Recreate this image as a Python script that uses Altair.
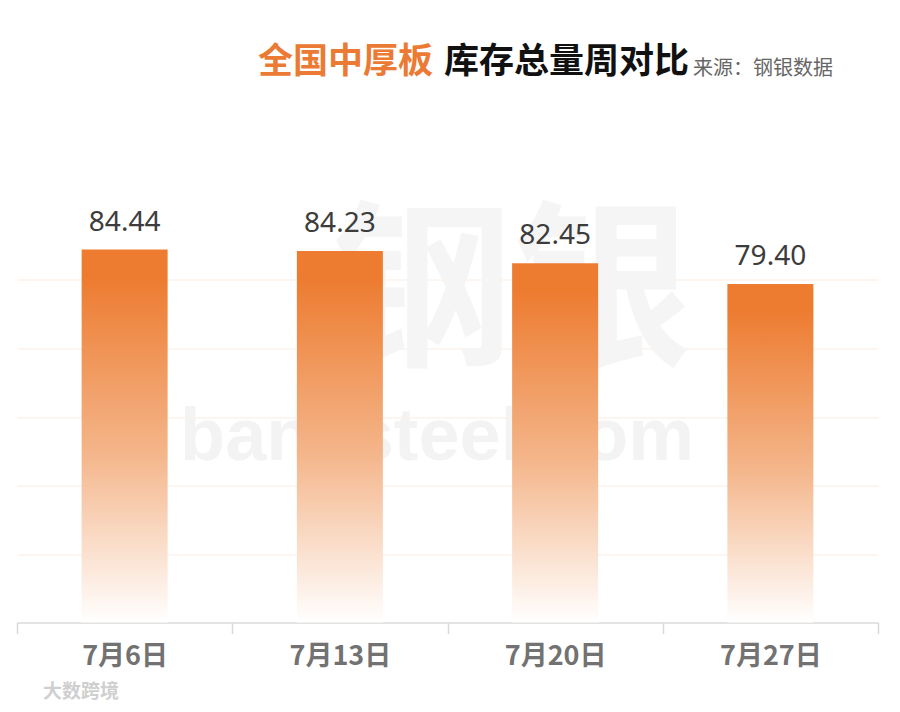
import altair as alt
import pandas as pd

dates = ["7月6日", "7月13日", "7月20日", "7月27日"]
values = [84.44, 84.23, 82.45, 79.40]
axis_floor = 30
grid_values = [40, 50, 60, 70, 80]
title_main = "全国中厚板"
title_rest = "库存总量周对比"
source_text = "来源：钢银数据"
watermark_top = "钢银"
watermark_bottom = "banksteel.com"
corner_mark = "大数跨境"

df = pd.DataFrame({"date": dates, "value": values})

CJK = "Noto Sans CJK SC"

x_enc = alt.X(
    "date:N",
    sort=dates,
    scale=alt.Scale(paddingInner=0, paddingOuter=0),
    axis=alt.Axis(
        title=None,
        labelAngle=0,
        labelFont=CJK,
        labelFontSize=27,
        labelFontWeight="bold",
        labelColor="#727272",
        labelPadding=10,
        tickBand="extent",
        tickSize=11,
        tickColor="#dadada",
        tickWidth=1.5,
        domainColor="#dadada",
        domainWidth=1.5,
    ),
)
y_enc = alt.Y(
    "value:Q",
    scale=alt.Scale(domain=[30, 90], nice=False, zero=False),
    axis=alt.Axis(
        title=None,
        values=grid_values,
        labels=False,
        ticks=False,
        domain=False,
        grid=True,
        gridColor="#fcebe0",
        gridWidth=1.2,
    ),
)

base = alt.Chart(df)


def text_layer(txt, x, y, size, color, weight="normal", font=CJK, align="left", baseline="alphabetic"):
    return alt.Chart(pd.DataFrame({"t": [txt]})).mark_text(
        align=align, baseline=baseline, font=font, fontSize=size,
        fontWeight=weight, color=color,
    ).encode(x=alt.value(x), y=alt.value(y), text="t:N")


wm1 = text_layer(watermark_top, 315, 140, 180, "#f5f5f5", "bold", align="left")
wm2 = text_layer(watermark_bottom, 420, 248, 74, "#f3f3f3", "bold",
                 font="Liberation Sans, Arial, sans-serif", align="center")

bars = base.mark_bar(
    size=86,
    color=alt.Gradient(
        gradient="linear",
        x1=0, y1=0, x2=0, y2=1,
        stops=[
            alt.GradientStop(offset=0, color="#ed7c31"),
            alt.GradientStop(offset=0.08, color="#ed7c31"),
            alt.GradientStop(offset=0.55, color="#f4b68b"),
            alt.GradientStop(offset=1, color="#ffffff"),
        ],
    ),
).encode(x=x_enc, y=y_enc, y2=alt.datum(axis_floor))

labels = base.mark_text(
    baseline="alphabetic", dy=-19, font="Noto Sans", fontSize=28, color="#3c3c3c"
).encode(x=alt.X("date:N", sort=dates), y="value:Q", text=alt.Text("value:Q", format=".2f"))

t1 = text_layer(title_main, 241, -138.5, 35, "#eb7b34", "bold")
t2 = text_layer(title_rest, 427, -138.5, 35, "#111111", "bold")
t3 = text_layer(source_text, 676, -137, 20, "#666666")
t4 = text_layer(corner_mark, 26, 486, 19, "#cfcfcf", "bold")

chart = alt.layer(wm1, wm2, bars, labels, t1, t2, t3, t4).properties(
    width=861,
    height=411,
    autosize=alt.AutoSizeParams(type="none"),
    padding={"left": 9, "top": 203.5, "right": 6, "bottom": 80},
    background="white",
).configure_view(stroke=None)

chart.save("out.html", embed_options={"renderer": "svg", "actions": False})
